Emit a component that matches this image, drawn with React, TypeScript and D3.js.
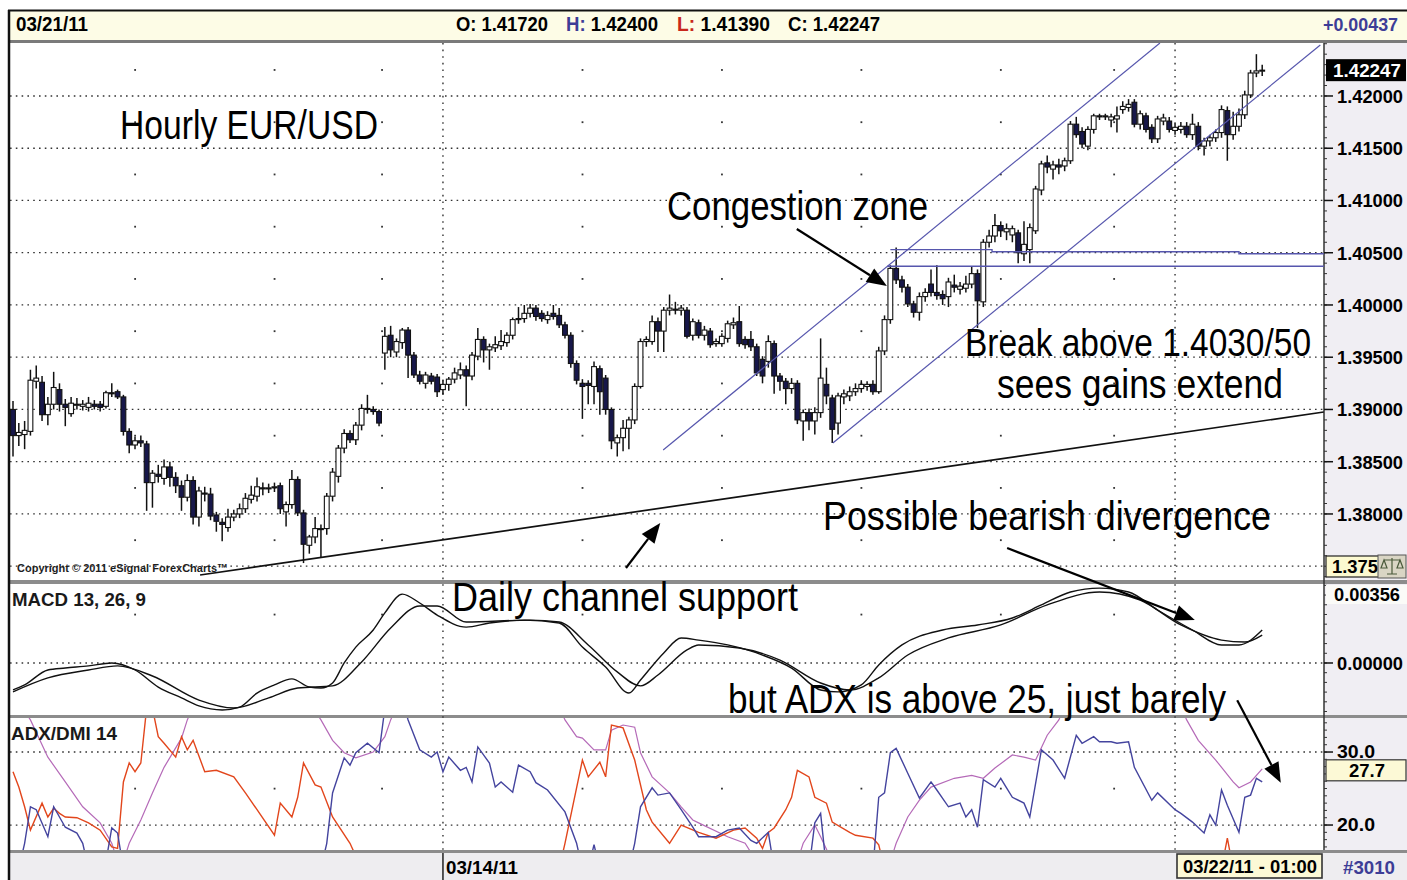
import React from "react";
import * as d3 from "d3";

// hourly EUR/USD bars as [open, high, low, close]
const candlesA = [
  [1.39, 1.3908, 1.3855, 1.3875], [1.3875, 1.3887, 1.3865, 1.3878], [1.3876, 1.3889, 1.3862, 1.388],
  [1.3879, 1.3938, 1.3875, 1.3928], [1.3927, 1.3942, 1.392, 1.393], [1.3926, 1.3932, 1.3889, 1.3895],
  [1.3895, 1.3912, 1.3885, 1.3905], [1.3905, 1.3936, 1.39, 1.3921], [1.3919, 1.3925, 1.3898, 1.3905],
  [1.3905, 1.391, 1.3884, 1.3902], [1.3896, 1.3912, 1.3893, 1.3906], [1.3904, 1.3911, 1.39, 1.3905],
  [1.3903, 1.3909, 1.3899, 1.3905], [1.3902, 1.3912, 1.3898, 1.3906], [1.3905, 1.3909, 1.39, 1.3903],
  [1.3905, 1.3908, 1.3898, 1.3902], [1.3903, 1.3918, 1.3901, 1.3916], [1.3916, 1.3925, 1.3912, 1.3915],
  [1.3917, 1.3919, 1.391, 1.3912], [1.3912, 1.3914, 1.3875, 1.3879], [1.3879, 1.3882, 1.3858, 1.3866],
  [1.3866, 1.3874, 1.3862, 1.387], [1.387, 1.3875, 1.3864, 1.3868], [1.3867, 1.387, 1.3803, 1.383],
  [1.383, 1.3842, 1.3806, 1.3839], [1.3838, 1.3847, 1.383, 1.3836], [1.3834, 1.3852, 1.3828, 1.3845],
  [1.3845, 1.385, 1.3826, 1.3835], [1.3835, 1.384, 1.382, 1.3827], [1.3827, 1.3832, 1.3803, 1.3816],
  [1.3816, 1.3838, 1.3812, 1.3832], [1.3832, 1.3836, 1.379, 1.3797], [1.3797, 1.3826, 1.3788, 1.3822],
  [1.382, 1.3826, 1.3812, 1.3819], [1.3819, 1.3825, 1.3794, 1.3798], [1.3799, 1.3802, 1.3783, 1.3793],
  [1.3792, 1.3796, 1.3774, 1.379], [1.3787, 1.3805, 1.3783, 1.3797], [1.3797, 1.3804, 1.3793, 1.38],
  [1.38, 1.381, 1.3796, 1.3805], [1.3805, 1.382, 1.3801, 1.3815], [1.3814, 1.3827, 1.381, 1.3818],
  [1.3817, 1.3835, 1.3812, 1.3826], [1.3825, 1.383, 1.3818, 1.3824], [1.3824, 1.3829, 1.382, 1.3825],
  [1.3825, 1.383, 1.3821, 1.3826], [1.3827, 1.383, 1.38, 1.3805], [1.3802, 1.3812, 1.3788, 1.3809],
  [1.3809, 1.3842, 1.3805, 1.3833], [1.3833, 1.3836, 1.3798, 1.3801], [1.3801, 1.3804, 1.3753, 1.3771],
  [1.377, 1.378, 1.3762, 1.3778], [1.3778, 1.3797, 1.3772, 1.3786], [1.3785, 1.379, 1.3758, 1.3786],
  [1.3786, 1.382, 1.378, 1.3817], [1.3817, 1.3844, 1.3812, 1.384], [1.3836, 1.3866, 1.383, 1.3863],
  [1.3863, 1.3881, 1.3858, 1.3877], [1.3877, 1.388, 1.3868, 1.3871], [1.3871, 1.3888, 1.3866, 1.3885],
  [1.3885, 1.3905, 1.388, 1.3901], [1.3901, 1.3914, 1.3896, 1.39], [1.39, 1.3903, 1.3895, 1.3898],
  [1.3898, 1.39, 1.3884, 1.3887], [1.3954, 1.3979, 1.3938, 1.397], [1.3971, 1.398, 1.395, 1.3957],
  [1.3955, 1.3968, 1.395, 1.3965], [1.3964, 1.3978, 1.3958, 1.3976], [1.3976, 1.3979, 1.393, 1.3952],
  [1.3952, 1.3955, 1.393, 1.3933], [1.3933, 1.3937, 1.3924, 1.3927], [1.3925, 1.3936, 1.392, 1.3933],
  [1.3932, 1.3935, 1.3924, 1.3927], [1.3931, 1.3934, 1.3912, 1.3917], [1.3919, 1.3928, 1.3914, 1.3924],
];

const candlesB = [
  [1.3924, 1.3931, 1.3918, 1.3929], [1.3929, 1.394, 1.3925, 1.3935], [1.3933, 1.3945, 1.3929, 1.3938],
  [1.3938, 1.3942, 1.3903, 1.3932], [1.3932, 1.3955, 1.3928, 1.3952], [1.3951, 1.3978, 1.3947, 1.3967],
  [1.3967, 1.397, 1.3945, 1.3957], [1.3957, 1.3963, 1.3938, 1.396], [1.3959, 1.397, 1.3955, 1.3962],
  [1.3961, 1.3976, 1.3957, 1.3965], [1.3964, 1.3974, 1.396, 1.3971], [1.3971, 1.3988, 1.3967, 1.3986],
  [1.3986, 1.3998, 1.3982, 1.3987], [1.3987, 1.4, 1.3983, 1.3992], [1.3992, 1.4001, 1.3988, 1.3997],
  [1.3997, 1.4, 1.3985, 1.3989], [1.3992, 1.3995, 1.3984, 1.3987], [1.3986, 1.3994, 1.3982, 1.399],
  [1.3992, 1.4, 1.3986, 1.3989], [1.399, 1.3997, 1.3978, 1.3981], [1.3981, 1.3984, 1.3968, 1.3971],
  [1.3971, 1.3974, 1.394, 1.3944], [1.3944, 1.3947, 1.3924, 1.3928], [1.3925, 1.3929, 1.3891, 1.3922],
  [1.3925, 1.3928, 1.3905, 1.3923], [1.3922, 1.3946, 1.3905, 1.3941], [1.3939, 1.3942, 1.3895, 1.3917],
  [1.393, 1.3933, 1.3895, 1.39], [1.39, 1.3902, 1.3862, 1.387], [1.3868, 1.3876, 1.3855, 1.3873],
  [1.3873, 1.389, 1.386, 1.3882], [1.3882, 1.3893, 1.3862, 1.389], [1.389, 1.3925, 1.3886, 1.3922],
  [1.3922, 1.3968, 1.392, 1.3965], [1.3965, 1.397, 1.396, 1.3967], [1.3965, 1.399, 1.3962, 1.3984],
  [1.3984, 1.3988, 1.3955, 1.3975], [1.3975, 1.3998, 1.3955, 1.3995], [1.3995, 1.401, 1.399, 1.3997],
  [1.3996, 1.4003, 1.3991, 1.3995], [1.3995, 1.4, 1.399, 1.3997], [1.3995, 1.3998, 1.3968, 1.397],
  [1.3971, 1.3987, 1.3966, 1.3984], [1.3983, 1.3986, 1.3968, 1.3971], [1.3971, 1.398, 1.3966, 1.3976],
  [1.3975, 1.3978, 1.3959, 1.3962], [1.3963, 1.3968, 1.396, 1.3965], [1.3963, 1.3973, 1.396, 1.397],
  [1.3968, 1.3985, 1.3964, 1.3982], [1.3981, 1.3988, 1.3977, 1.3983], [1.3984, 1.3999, 1.396, 1.3963],
  [1.3967, 1.397, 1.3958, 1.3962], [1.3967, 1.3975, 1.3956, 1.396], [1.396, 1.3963, 1.3932, 1.3935],
  [1.3948, 1.3951, 1.3925, 1.3932], [1.3946, 1.3971, 1.394, 1.3965], [1.3963, 1.3966, 1.3915, 1.3932],
  [1.3932, 1.3935, 1.3918, 1.3927], [1.3927, 1.393, 1.3905, 1.392], [1.392, 1.393, 1.3915, 1.3925],
  [1.3925, 1.3928, 1.3886, 1.389], [1.3889, 1.39, 1.387, 1.3897], [1.3897, 1.3901, 1.388, 1.3889],
  [1.3889, 1.3902, 1.3876, 1.3897], [1.3897, 1.3968, 1.3892, 1.393], [1.3924, 1.394, 1.3905, 1.3913],
  [1.3911, 1.3914, 1.3868, 1.3881], [1.3887, 1.3916, 1.3876, 1.3913], [1.3912, 1.3919, 1.3905, 1.3915],
  [1.3913, 1.3922, 1.3908, 1.3917], [1.3917, 1.3925, 1.3913, 1.392], [1.392, 1.3928, 1.3916, 1.3924],
  [1.3922, 1.3927, 1.3918, 1.3924], [1.3924, 1.3928, 1.3914, 1.3917], [1.3917, 1.396, 1.3915, 1.3956],
  [1.3956, 1.399, 1.3952, 1.3986],
];

const candlesC = [
  [1.3986, 1.4038, 1.3982, 1.4035], [1.4035, 1.4055, 1.402, 1.4024], [1.4024, 1.4028, 1.4012, 1.4017],
  [1.4017, 1.402, 1.3998, 1.4001], [1.4001, 1.4004, 1.3988, 1.3993], [1.3993, 1.4012, 1.3985, 1.4008],
  [1.4008, 1.4016, 1.4003, 1.4012], [1.402, 1.4034, 1.4008, 1.4012], [1.4012, 1.4038, 1.4005, 1.4009],
  [1.401, 1.4014, 1.4, 1.4006], [1.4008, 1.4026, 1.3998, 1.4022], [1.4019, 1.4029, 1.4012, 1.4017],
  [1.4015, 1.4022, 1.401, 1.4018], [1.4016, 1.4028, 1.4012, 1.402], [1.402, 1.4037, 1.4016, 1.403],
  [1.403, 1.4034, 1.3978, 1.4004], [1.4003, 1.4063, 1.3998, 1.406], [1.406, 1.4072, 1.4055, 1.4066],
  [1.4066, 1.4087, 1.406, 1.4076], [1.4076, 1.408, 1.4065, 1.4071], [1.407, 1.4078, 1.4062, 1.4073],
  [1.4067, 1.4076, 1.406, 1.4073], [1.4069, 1.4072, 1.404, 1.405], [1.4049, 1.408, 1.4042, 1.4058],
  [1.4053, 1.4078, 1.404, 1.4074], [1.4071, 1.4114, 1.4068, 1.4111], [1.411, 1.4138, 1.4105, 1.4135],
  [1.4136, 1.4143, 1.4126, 1.4132], [1.413, 1.4138, 1.412, 1.4134], [1.4134, 1.414, 1.4125, 1.4132],
  [1.4133, 1.4141, 1.4128, 1.4138], [1.4138, 1.4176, 1.4135, 1.4173], [1.4173, 1.418, 1.416, 1.4163],
  [1.4166, 1.417, 1.415, 1.4154], [1.4152, 1.4171, 1.4148, 1.4168], [1.4168, 1.4183, 1.4164, 1.4181],
  [1.4181, 1.4183, 1.4177, 1.418], [1.418, 1.4183, 1.4177, 1.4181], [1.4177, 1.4183, 1.417, 1.418],
  [1.4178, 1.419, 1.4165, 1.4181], [1.4187, 1.4195, 1.4183, 1.419], [1.4189, 1.4197, 1.4185, 1.4192],
  [1.4194, 1.4197, 1.417, 1.4173], [1.4173, 1.4186, 1.4168, 1.4183], [1.4181, 1.4184, 1.4165, 1.4168],
  [1.417, 1.4173, 1.4155, 1.4159], [1.4159, 1.4181, 1.4155, 1.4178], [1.4176, 1.4183, 1.4172, 1.4179],
  [1.4176, 1.418, 1.4165, 1.4168], [1.4167, 1.4174, 1.4163, 1.417], [1.4168, 1.4175, 1.4164, 1.4171],
  [1.4171, 1.4175, 1.416, 1.4163], [1.4163, 1.4183, 1.4158, 1.4173], [1.4171, 1.4175, 1.4148, 1.4152],
  [1.4152, 1.416, 1.4143, 1.4157], [1.4157, 1.4163, 1.4152, 1.416], [1.416, 1.4168, 1.4156, 1.4165],
  [1.4165, 1.4191, 1.416, 1.4187], [1.4186, 1.419, 1.4138, 1.4163], [1.4163, 1.4185, 1.4158, 1.4171],
  [1.4171, 1.4188, 1.4166, 1.4182], [1.4182, 1.4205, 1.4178, 1.4201], [1.4201, 1.4225, 1.4198, 1.4222],
  [1.4222, 1.424, 1.4218, 1.4224], [1.4224, 1.423, 1.4219, 1.42247],
];

// MACD 13,26,9 — [bar index, value]
const macdLine = [
  [0, -0.00139], [2, -0.00113], [6, -0.00036], [9, -0.00026], [13, -0.00015], [17, 0], [21, -0.00036],
  [25, -0.00124], [29, -0.0018], [32, -0.00221], [36, -0.00242], [39, -0.00227], [42, -0.00155],
  [45, -0.00113], [48, -0.00082], [51, -0.00124], [53, -0.00129], [55, -0.00103], [57, 0], [59, 0.00082],
  [62, 0.0017], [64, 0.00258], [67, 0.00355], [70, 0.00309], [73, 0.00247], [78, 0.00185], [82, 0.00206],
  [88, 0.00221], [94, 0.00206], [98, 0.00082], [102, -0.00021], [106, -0.00155], [108, -0.00088],
  [112, 0.00052], [115, 0.00129], [118, 0.00118], [123, 0.00093], [129, 0.00041], [134, -0.00026],
  [139, -0.00139], [142, -0.00149], [146, -0.00113], [149, -0.0001], [153, 0.00093], [160, 0.0017],
  [166, 0.00196], [172, 0.00232], [177, 0.00299], [182, 0.00366], [187, 0.00386], [192, 0.00366],
  [197, 0.00273], [203, 0.0017], [208, 0.00093], [211, 0.00093], [215, 0.0017],
];
const signalLine = [
  [0, -0.00149], [6, -0.00077], [13, -0.00036], [18, -0.00015], [24, -0.00067], [32, -0.00191],
  [38, -0.00232], [44, -0.0018], [49, -0.00129], [55, -0.00118], [60, 0.00005], [65, 0.0018],
  [70, 0.00294], [73, 0.00294], [78, 0.00211], [89, 0.00221], [94, 0.00211], [99, 0.00093],
  [104, -0.00046], [108, -0.00118], [111, -0.00062], [116, 0.00067], [118, 0.00093], [125, 0.00077],
  [132, 0.00015], [139, -0.00103], [144, -0.00139], [149, -0.00077], [154, 0.00041], [161, 0.00129],
  [170, 0.00196], [178, 0.00299], [187, 0.00366], [194, 0.00324], [201, 0.00196], [208, 0.00118],
  [212, 0.00108], [215, 0.00144],
];

// ADX/DMI 14 — [bar index, value]; values outside the pane are clipped
const adxLine = [
  [0, 38], [3, 34.4], [6, 29.3], [9, 25.9], [12, 22.5], [15, 20.3], [17, 17.5], [18, 15], [19, 15],
  [20, 17.5], [22, 20.7], [24, 24.4], [26, 27.9], [29, 31.9], [30, 34.4], [32, 38], [50, 38], [53, 34.4],
  [55, 31.6], [57, 29.9], [59, 29.2], [62, 30], [64, 32.1], [65, 34.4], [67, 38], [93, 38], [95, 34.4],
  [97, 32.1], [98, 31.9], [100, 30.3], [102, 30.3], [103, 33], [105, 33.7], [107, 33.4], [108, 29.9],
  [110, 26.6], [113, 24.4], [115, 22.5], [117, 20.7], [118, 20.3], [123, 18.4], [126, 17.5], [128, 15],
  [135, 15], [136, 17.5], [138, 20], [139, 18.4], [141, 15], [151, 15], [152, 17.5], [154, 21.1],
  [156, 23.4], [158, 25.2], [162, 26.4], [165, 26.8], [167, 26.4], [169, 27.8], [172, 29.6], [174, 29.3],
  [176, 28.9], [178, 32.3], [180, 34.4], [182, 38], [200, 38], [202, 34.4], [204, 31.6], [207, 28.9],
  [210, 25.9], [211, 25.1], [213, 25.9], [215, 27.7],
];
const minusDI = [
  [0, 27.3], [1, 25.2], [2, 22.5], [3, 19.3], [5, 23], [6, 21.1], [7, 22.3], [8, 21.6], [9, 21.1],
  [11, 21], [13, 20.3], [15, 19.3], [17, 17], [18, 16.8], [19, 25.9], [20, 28.5], [21, 27.3], [22, 28.5],
  [23, 36], [24, 36], [25, 32.1], [26, 31.2], [28, 29.3], [29, 32.1], [30, 30.3], [31, 31.6], [33, 27.3],
  [35, 27.5], [38, 26.6], [40, 24.4], [42, 22.1], [45, 18.6], [46, 23], [48, 21.1], [49, 23.8], [50, 28.5],
  [52, 25.5], [53, 25.2], [55, 21.1], [58, 17.5], [60, 14], [94, 14], [95, 17.5], [98, 28.9], [99, 26.6],
  [101, 28.6], [102, 26.6], [103, 33.7], [105, 33.3], [107, 28.9], [109, 22.1], [110, 20.4], [113, 17.5],
  [115, 20], [118, 19], [121, 18.2], [124, 19.3], [126, 19.6], [128, 18.2], [129, 16.8], [130, 19],
  [131, 19.6], [133, 22.1], [134, 23.8], [135, 27.5], [137, 26.6], [138, 23.8], [140, 23], [141, 20.4],
  [144, 19], [145, 18.6], [148, 18.2], [149, 17.3], [150, 14], [208, 14], [209, 18.2], [210, 14], [215, 14],
];
const plusDI = [
  [0, 14], [1, 14], [2, 17.5], [3, 22.5], [4, 22.1], [6, 18.4], [7, 22.5], [8, 21.1], [9, 19.7],
  [11, 18.9], [12, 17.5], [13, 14], [16, 15], [17, 19.6], [18, 18.9], [19, 14], [53, 14], [54, 17.5],
  [55, 24.4], [57, 29.2], [58, 28.2], [59, 29.9], [61, 31.2], [63, 29.9], [64, 36], [66, 38], [67, 37],
  [68, 34.4], [70, 30.3], [72, 29.3], [73, 30], [74, 27.3], [75, 29.3], [77, 27.5], [78, 27.9], [79, 25.9],
  [80, 30.7], [82, 28.5], [83, 25.2], [84, 25.9], [86, 24.5], [87, 28.2], [89, 27.3], [90, 25.8],
  [92, 24.8], [95, 21.8], [97, 17.5], [98, 14], [99, 14], [100, 17.3], [101, 14], [106, 14], [107, 17.5],
  [108, 22.5], [110, 25.1], [111, 24.1], [113, 24.4], [115, 22.1], [117, 19.7], [118, 18.4], [121, 18.4],
  [123, 19.3], [125, 19.6], [127, 17.9], [128, 17.5], [130, 19], [131, 14], [137, 14], [138, 20.3],
  [139, 21.6], [140, 14], [148, 14], [149, 23.8], [150, 24.4], [151, 29.9], [152, 30.5], [154, 27.1],
  [156, 23.7], [158, 25.9], [159, 24.8], [161, 22.5], [163, 23], [164, 21.1], [165, 22.1], [166, 19.7],
  [167, 26.2], [169, 25.2], [170, 26.4], [171, 25.1], [172, 23.8], [174, 23], [175, 21.1], [177, 30.3],
  [179, 28.9], [181, 26.4], [183, 32.3], [184, 31.2], [186, 32.1], [187, 31.4], [189, 31.4], [190, 31.2],
  [192, 31.4], [193, 27.9], [196, 23.4], [197, 24.4], [200, 22.1], [201, 21.6], [203, 20.4], [205, 18.9],
  [206, 21.4], [207, 20], [208, 24.8], [209, 22.7], [211, 19], [212, 23.8], [213, 24.1], [214, 26.4],
  [215, 25.9],
];

// drawn studies — [bar index, price]
const supportLine = [[32.2, 1.37416], [225.6, 1.38976]];
const channelUpper = [[111.9, 1.38612], [197.4, 1.42507]];
const channelLower = [[141.1, 1.38679], [225, 1.42488]];
const resistanceHigh = [[151, 1.4053], [168.5, 1.4053], [168.5, 1.4051], [211, 1.4051], [211, 1.4049], [225.6, 1.4049]];
const resistanceLow = [[150.5, 1.4037], [225.6, 1.4037]];

const priceTicks = [1.38, 1.385, 1.39, 1.395, 1.4, 1.405, 1.41, 1.415, 1.42];
const priceGrid = [1.375, 1.38, 1.385, 1.39, 1.395, 1.4, 1.405, 1.41, 1.415, 1.42];
const priceHalfLevels = [1.3775, 1.3825, 1.3875, 1.3925, 1.3975, 1.4025, 1.4075, 1.4125, 1.4175, 1.4225];
const dayMarks = [21, 45, 63.5, 98, 122, 146, 170, 189.5];
const weekMarks = [74, 200];
const adxTicks = [30, 20];

const NARROW = "'Liberation Sans Narrow', 'Arial Narrow', sans-serif";
const NAVY = "#3d3d96";

const Txt = ({ x, y, w, size = 40, bold = false, fill = "#000", children }: any) => (
  <text
    x={x}
    y={y}
    fontFamily={NARROW}
    fontSize={size}
    fontWeight={bold ? "bold" : "normal"}
    fill={fill}
    textLength={w}
    lengthAdjust="spacingAndGlyphs"
  >
    {children}
  </text>
);

const Arrow = ({ p1, p2, head = 20, half = 8 }: any) => {
  const [x1, y1] = p1;
  const [x2, y2] = p2;
  const len = Math.hypot(x2 - x1, y2 - y1);
  const ux = (x2 - x1) / len;
  const uy = (y2 - y1) / len;
  const bx = x2 - ux * head;
  const by = y2 - uy * head;
  const pts = `${x2},${y2} ${bx - uy * half},${by + ux * half} ${bx + uy * half},${by - ux * half}`;
  return (
    <g>
      <line x1={x1} y1={y1} x2={bx} y2={by} stroke="#000" strokeWidth={2.2} />
      <polygon points={pts} fill="#000" />
    </g>
  );
};

export default function App() {
  const candles = [...candlesA, ...candlesB, ...candlesC];
  const plotL = 10;
  const plotR = 1324;

  const x = d3.scaleLinear().domain([0, candles.length - 1]).range([13, 1262.2]);
  const yP = d3.scaleLinear().domain([1.37368, 1.42507]).range([580, 43]);
  const yM = d3.scaleLinear().domain([-0.00268, 0.00407]).range([715, 584]);
  const yA = d3.scaleLinear().domain([16.58, 34.66]).range([850, 718]);

  const fmt5 = d3.format(".5f");
  const fmt1 = d3.format(".1f");

  const priceLine = d3.line().x((d: any) => x(d[0])).y((d: any) => yP(d[1]));
  const macdPath = d3.line().x((d: any) => x(d[0])).y((d: any) => yM(d[1])).curve(d3.curveMonotoneX);
  const adxPath = d3.line().x((d: any) => x(d[0])).y((d: any) => yA(d[1]));

  const bodyW = 4.8;
  const last = candles[candles.length - 1][3];

  const congestionArrow = [[134.9, 1.40727], [150.4, 1.40182]];
  const supportArrow = [[105.5, 1.37483], [111.4, 1.37914]];
  const divergenceArrow = [[171.1, 0.00592], [203.4, 0.00221]];
  const adxArrow = [[210.7, 37.1], [218.2, 25.8]];

  const minorPrice = d3.range(1.374, 1.4251, 0.001);
  const minorMacd = d3.range(-0.0025, 0.0041, 0.0005);
  const minorAdx = d3.range(17, 35, 1);

  return (
    <svg width={1407} height={880} style={{ position: "absolute", left: 0, top: 0, background: "#fff" }}>
      <defs>
        <clipPath id="clipMain"><rect x={plotL} y={43} width={plotR - plotL} height={537} /></clipPath>
        <clipPath id="clipMacd"><rect x={plotL} y={584} width={plotR - plotL} height={131} /></clipPath>
        <clipPath id="clipAdx"><rect x={plotL} y={718} width={plotR - plotL} height={132} /></clipPath>
      </defs>

      {/* header */}
      <rect x={8} y={10} width={1399} height={30} fill="#fdfce6" />
      <line x1={8} x2={1407} y1={10.5} y2={10.5} stroke="#111" strokeWidth={2} />
      <Txt x={16} y={31} w={72} size={20} bold>03/21/11</Txt>
      <Txt x={456} y={31} w={92} size={20} bold>O: 1.41720</Txt>
      <text x={566} y={31} fontFamily={NARROW} fontSize={20} fontWeight="bold" textLength={92} lengthAdjust="spacingAndGlyphs">
        <tspan fill={NAVY}>H:</tspan><tspan fill="#000"> 1.42400</tspan>
      </text>
      <text x={677} y={31} fontFamily={NARROW} fontSize={20} fontWeight="bold" textLength={93} lengthAdjust="spacingAndGlyphs">
        <tspan fill="#c8281a">L:</tspan><tspan fill="#000"> 1.41390</tspan>
      </text>
      <Txt x={788} y={31} w={92} size={20} bold>C: 1.42247</Txt>
      <Txt x={1323} y={31} w={75} size={19} bold fill={NAVY}>+0.00437</Txt>

      {/* pane backgrounds and separators */}
      <rect x={plotR} y={43} width={1407 - plotR} height={807} fill="#f0eef3" />
      <rect x={8} y={40} width={1399} height={3} fill="#7a7a7a" />
      <rect x={8} y={580} width={1399} height={4} fill="#8c8c8c" />
      <rect x={8} y={715} width={1399} height={3} fill="#8c8c8c" />
      <rect x={8} y={850} width={1399} height={3} fill="#8c8c8c" />
      <rect x={8} y={853} width={1399} height={27} fill="#eeedf0" />
      <line x1={plotR} x2={plotR} y1={43} y2={850} stroke="#333" strokeWidth={1.5} />
      <line x1={9} x2={9} y1={10} y2={880} stroke="#111" strokeWidth={2.5} />

      {/* grids */}
      {priceGrid.map((p) => (
        <line key={p} x1={plotL} x2={plotR} y1={yP(p)} y2={yP(p)} stroke="#333" strokeWidth={1.3} strokeDasharray="1.6 4.2" />
      ))}
      {dayMarks.map((d) =>
        priceHalfLevels.map((p) => <rect key={`${d}-${p}`} x={x(d) - 0.8} y={yP(p) - 0.8} width={1.8} height={1.8} fill="#333" />)
      )}
      {dayMarks.map((d) => <rect key={`m${d}`} x={x(d) - 0.8} y={yM(0.0025) - 0.8} width={1.8} height={1.8} fill="#333" />)}
      {dayMarks.map((d) => <rect key={`a${d}`} x={x(d) - 0.8} y={yA(25) - 0.8} width={1.8} height={1.8} fill="#333" />)}
      {weekMarks.map((w) => (
        <line key={w} x1={x(w)} x2={x(w)} y1={43} y2={850} stroke="#333" strokeWidth={1.4} strokeDasharray="1.6 5" />
      ))}
      <line x1={plotL} x2={plotR} y1={yM(0)} y2={yM(0)} stroke="#333" strokeWidth={1.3} strokeDasharray="1.6 4.2" />
      {adxTicks.map((t) => (
        <line key={t} x1={plotL} x2={plotR} y1={yA(t)} y2={yA(t)} stroke="#333" strokeWidth={1.3} strokeDasharray="1.6 4.2" />
      ))}

      <Txt x={17} y={572} w={211} size={11.5} bold fill="#1e1e1e">Copyright © 2011 eSignal ForexCharts™</Txt>

      {/* candles and drawn studies */}
      <g clipPath="url(#clipMain)">
        {candles.map(([o, h, l, c], i) => {
          const cx = x(i);
          const up = c >= o;
          const top = yP(Math.max(o, c));
          const bh = Math.max(1, Math.abs(yP(o) - yP(c)));
          return (
            <g key={i}>
              <line x1={cx} x2={cx} y1={yP(h)} y2={yP(l)} stroke="#111" strokeWidth={1.5} />
              <rect x={cx - bodyW / 2} y={top} width={bodyW} height={bh} fill={up ? "#fff" : "#17174a"} stroke="#111" strokeWidth={1.1} />
            </g>
          );
        })}
        <path d={priceLine(supportLine as any) || ""} fill="none" stroke="#111" strokeWidth={1.7} />
        <path d={priceLine(channelUpper as any) || ""} fill="none" stroke="#5656ad" strokeWidth={1.2} />
        <path d={priceLine(channelLower as any) || ""} fill="none" stroke="#5656ad" strokeWidth={1.2} />
        <path d={priceLine(resistanceHigh as any) || ""} fill="none" stroke="#5656ad" strokeWidth={1.4} />
        <path d={priceLine(resistanceLow as any) || ""} fill="none" stroke="#5656ad" strokeWidth={1.4} />
      </g>

      {/* MACD */}
      <g clipPath="url(#clipMacd)">
        <path d={macdPath(signalLine as any) || ""} fill="none" stroke="#111" strokeWidth={1.4} />
        <path d={macdPath(macdLine as any) || ""} fill="none" stroke="#111" strokeWidth={1.4} />
      </g>
      <Txt x={12} y={606} w={134} size={18} bold fill="#1a1a1a">MACD 13, 26, 9</Txt>

      {/* ADX / DMI */}
      <g clipPath="url(#clipAdx)">
        <path d={adxPath(adxLine as any) || ""} fill="none" stroke="#b56ab8" strokeWidth={1.2} />
        <path d={adxPath(minusDI as any) || ""} fill="none" stroke="#e2461c" strokeWidth={1.4} />
        <path d={adxPath(plusDI as any) || ""} fill="none" stroke="#44449e" strokeWidth={1.4} />
      </g>
      <Txt x={11} y={740} w={106} size={18} bold fill="#1a1a1a">ADX/DMI 14</Txt>

      {/* right axis: price */}
      {minorPrice.map((p) => (
        <line key={p} x1={plotR} x2={plotR + 3} y1={yP(p)} y2={yP(p)} stroke="#333" strokeWidth={1} />
      ))}
      {priceTicks.map((p) => (
        <g key={p}>
          <line x1={plotR} x2={plotR + 9} y1={yP(p)} y2={yP(p)} stroke="#111" strokeWidth={1.5} />
          <Txt x={1337} y={yP(p) + 7} w={66} size={19} bold>{fmt5(p)}</Txt>
        </g>
      ))}
      <rect x={1326} y={yP(last) - 11} width={80} height={22} fill="#000" />
      <Txt x={1333} y={yP(last) + 7} w={68} size={19} bold fill="#fff">{fmt5(last)}</Txt>
      <rect x={1326} y={556} width={54} height={21} fill="#fcf9d0" stroke="#222" strokeWidth={1.2} />
      <Txt x={1332} y={573} w={46} size={19} bold>1.375</Txt>
      <rect x={1378} y={555} width={28} height={23} fill="#d9d5c4" stroke="#555" strokeWidth={1} />
      <path d="M1384,560 L1400,560 M1392,558 L1392,574 M1384,560 L1381,568 L1387,568 Z M1400,560 L1397,568 L1403,568 Z M1387,574 L1397,574" fill="none" stroke="#4a5a3a" strokeWidth={1.2} />

      {/* right axis: MACD */}
      {minorMacd.map((v) => (
        <line key={v} x1={plotR} x2={plotR + 3} y1={yM(v)} y2={yM(v)} stroke="#333" strokeWidth={1} />
      ))}
      <rect x={1326} y={585} width={81} height={19} fill="#fbfbf8" />
      <Txt x={1334} y={601} w={66} size={19} bold>{fmt5(0.00356)}</Txt>
      <line x1={plotR} x2={plotR + 9} y1={yM(0)} y2={yM(0)} stroke="#111" strokeWidth={1.5} />
      <Txt x={1337} y={yM(0) + 7} w={66} size={19} bold>{fmt5(0)}</Txt>

      {/* right axis: ADX */}
      {minorAdx.map((v) => (
        <line key={v} x1={plotR} x2={plotR + 3} y1={yA(v)} y2={yA(v)} stroke="#333" strokeWidth={1} />
      ))}
      {adxTicks.map((t) => (
        <g key={t}>
          <line x1={plotR} x2={plotR + 9} y1={yA(t)} y2={yA(t)} stroke="#111" strokeWidth={1.5} />
          <Txt x={1337} y={yA(t) + 6} w={38} size={18} bold>{fmt1(t)}</Txt>
        </g>
      ))}
      <rect x={1326} y={yA(27.7) - 9} width={80} height={21} fill="#fcf9d6" stroke="#333" strokeWidth={1.2} />
      <Txt x={1349} y={yA(27.7) + 8} w={36} size={19} bold>{fmt1(27.7)}</Txt>

      {/* bottom date bar */}
      <line x1={x(weekMarks[0])} x2={x(weekMarks[0])} y1={853} y2={880} stroke="#222" strokeWidth={1.5} />
      <Txt x={446} y={874} w={72} size={19} bold>03/14/11</Txt>
      <rect x={1177} y={854} width={145} height={24} fill="#fcf9d6" stroke="#333" strokeWidth={1.6} />
      <Txt x={1183} y={873} w={134} size={19} bold>03/22/11 - 01:00</Txt>
      <Txt x={1343} y={874} w={52} size={19} bold fill={NAVY}>#3010</Txt>

      {/* annotations */}
      <Txt x={120} y={139} w={258}>Hourly EUR/USD</Txt>
      <Txt x={667} y={220} w={261}>Congestion zone</Txt>
      <Txt x={965} y={356} w={346} size={38}>Break above 1.4030/50</Txt>
      <Txt x={997} y={398} w={286}>sees gains extend</Txt>
      <Txt x={823} y={530} w={448}>Possible bearish divergence</Txt>
      <Txt x={452} y={611} w={346}>Daily channel support</Txt>
      <Txt x={728} y={713} w={498}>but ADX is above 25, just barely</Txt>

      <Arrow p1={[x(congestionArrow[0][0]), yP(congestionArrow[0][1])]} p2={[x(congestionArrow[1][0]), yP(congestionArrow[1][1])]} />
      <Arrow p1={[x(supportArrow[0][0]), yP(supportArrow[0][1])]} p2={[x(supportArrow[1][0]), yP(supportArrow[1][1])]} />
      <Arrow p1={[x(divergenceArrow[0][0]), yM(divergenceArrow[0][1])]} p2={[x(divergenceArrow[1][0]), yM(divergenceArrow[1][1])]} />
      <Arrow p1={[x(adxArrow[0][0]), yA(adxArrow[0][1])]} p2={[x(adxArrow[1][0]), yA(adxArrow[1][1])]} />
    </svg>
  );
}
